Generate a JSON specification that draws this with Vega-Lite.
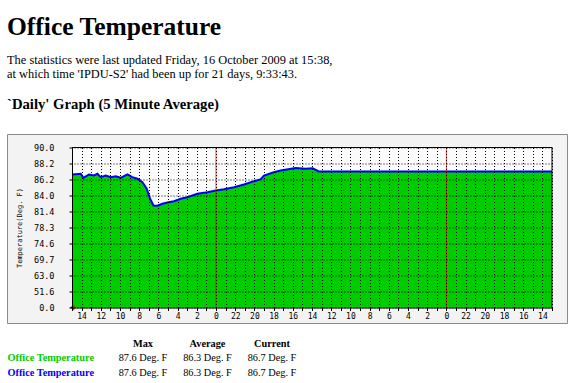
{
  "$schema": "https://vega.github.io/schema/vega-lite/v6.json",
  "background": "white",
  "padding": {"left": 7, "top": 14.5, "right": 0, "bottom": 0},
  "config": {"view": {"stroke": null}, "font": "Liberation Serif"},
  "title": {
    "text": "Office Temperature",
    "subtitle": ["The statistics were last updated Friday, 16 October 2009 at 15:38,", "at which time 'IPDU-S2' had been up for 21 days, 9:33:43."],
    "anchor": "start",
    "font": "Liberation Serif",
    "fontSize": 25.5,
    "fontWeight": "bold",
    "color": "black",
    "subtitleFont": "Liberation Serif",
    "subtitleFontSize": 12.4,
    "subtitleColor": "black",
    "subtitlePadding": 13.5,
    "subtitleLineHeight": 14,
    "offset": 16.5
  },
  "spacing": 14,
  "datasets": {
    "temp": [
      {"t": "2009-10-16T15:00:00", "v": 86.83},
      {"t": "2009-10-16T14:05:00", "v": 86.91},
      {"t": "2009-10-16T13:49:00", "v": 86.41},
      {"t": "2009-10-16T13:14:00", "v": 86.83},
      {"t": "2009-10-16T12:42:00", "v": 86.70},
      {"t": "2009-10-16T12:21:00", "v": 86.91},
      {"t": "2009-10-16T12:01:00", "v": 86.49},
      {"t": "2009-10-16T11:29:00", "v": 86.70},
      {"t": "2009-10-16T10:58:00", "v": 86.49},
      {"t": "2009-10-16T10:27:00", "v": 86.61},
      {"t": "2009-10-16T09:56:00", "v": 86.41},
      {"t": "2009-10-16T09:14:00", "v": 86.83},
      {"t": "2009-10-16T08:43:00", "v": 86.49},
      {"t": "2009-10-16T08:11:00", "v": 86.29},
      {"t": "2009-10-16T07:40:00", "v": 85.83},
      {"t": "2009-10-16T07:13:00", "v": 84.92},
      {"t": "2009-10-16T06:52:00", "v": 83.46},
      {"t": "2009-10-16T06:31:00", "v": 82.38},
      {"t": "2009-10-16T06:06:00", "v": 82.33},
      {"t": "2009-10-16T05:35:00", "v": 82.65},
      {"t": "2009-10-16T05:04:00", "v": 82.86},
      {"t": "2009-10-16T04:22:00", "v": 83.07},
      {"t": "2009-10-16T03:41:00", "v": 83.46},
      {"t": "2009-10-16T02:59:00", "v": 83.72},
      {"t": "2009-10-16T01:56:00", "v": 84.23},
      {"t": "2009-10-16T00:54:00", "v": 84.45},
      {"t": "2009-10-16T00:00:00", "v": 84.69},
      {"t": "2009-10-15T23:10:00", "v": 84.87},
      {"t": "2009-10-15T22:07:00", "v": 85.14},
      {"t": "2009-10-15T21:05:00", "v": 85.51},
      {"t": "2009-10-15T20:02:00", "v": 85.97},
      {"t": "2009-10-15T19:20:00", "v": 86.24},
      {"t": "2009-10-15T19:00:00", "v": 86.70},
      {"t": "2009-10-15T17:58:00", "v": 87.11},
      {"t": "2009-10-15T17:16:00", "v": 87.33},
      {"t": "2009-10-15T15:42:00", "v": 87.65},
      {"t": "2009-10-15T14:40:00", "v": 87.55},
      {"t": "2009-10-15T13:56:00", "v": 87.60},
      {"t": "2009-10-15T13:18:00", "v": 87.20},
      {"t": "2009-10-14T13:00:00", "v": 87.20}
    ]
  },
  "vconcat": [
    {
      "width": 480,
      "height": 160,
      "title": {
        "text": "`Daily' Graph (5 Minute Average)",
        "anchor": "start",
        "font": "Liberation Serif",
        "fontSize": 14.7,
        "fontWeight": "bold",
        "color": "black",
        "offset": 22
      },
      "resolve": {"axis": {"x": "independent"}},
      "layer": [
        {
          "data": {"values": [{"k": 1}]},
          "mark": {"type": "rect", "fill": "#f3f3f3", "stroke": "#8a8a8a", "strokeWidth": 1, "clip": false},
          "encoding": {
            "x": {"datum": {"year": 2009, "month": 10, "date": 16, "hours": 21, "minutes": 43}, "type": "temporal", "axis": null},
            "x2": {"datum": {"year": 2009, "month": 10, "date": 14, "hours": 11, "minutes": 23}},
            "y": {"datum": -51.6, "type": "quantitative", "title": "Temperature(Deg. F)"},
            "y2": {"datum": 91.46}
          }
        },
        {
          "data": {"values": [{"k": 1}]},
          "mark": {"type": "rect", "fill": "#fbfbfb"},
          "encoding": {
            "x": {"datum": {"year": 2009, "month": 10, "date": 16, "hours": 15}, "type": "temporal", "axis": null},
            "x2": {"datum": {"year": 2009, "month": 10, "date": 14, "hours": 13}},
            "y": {"datum": 0, "type": "quantitative", "title": "Temperature(Deg. F)"},
            "y2": {"datum": 90}
          }
        },
        {
          "data": {"name": "temp"},
          "mark": {"type": "area", "color": "#00cc00", "opacity": 1},
          "encoding": {
            "x": {
              "field": "t", "type": "temporal", "title": null,
              "scale": {
                "type": "time",
                "domain": [{"year": 2009, "month": 10, "date": 14, "hours": 13}, {"year": 2009, "month": 10, "date": 16, "hours": 15}],
                "reverse": true,
                "nice": false
              },
              "axis": {
                "orient": "bottom",
                "tickCount": 50,
                "labels": false,
                "tickSize": 3,
                "tickColor": "black",
                "domainColor": "black",
                "grid": true,
                "gridColor": "black",
                "gridDash": [1, 2],
                "zindex": 1,
                "title": null
              }
            },
            "y": {
              "field": "v", "type": "quantitative", "title": "Temperature(Deg. F)",
              "scale": {
                "type": "linear",
                "domain": [0, 51.6, 63, 69.7, 74.6, 78.3, 81.4, 84, 86.2, 88.2, 90],
                "range": [160, 144, 128, 112, 96, 80, 64, 48, 32, 16, 0],
                "nice": false,
                "zero": false
              },
              "axis": {
                "values": [0, 51.6, 63, 69.7, 74.6, 78.3, 81.4, 84, 86.2, 88.2, 90],
                "tickCount": 30,
                "format": ".1f",
                "labelFont": "DejaVu Sans Mono",
                "labelFontSize": 8.5,
                "labelColor": "black",
                "labelPadding": 15,
                "labelOverlap": false,
                "tickSize": 3,
                "tickColor": "black",
                "domainColor": "black",
                "grid": true,
                "gridColor": "black",
                "gridDash": [1, 2],
                "zindex": 1,
                "titleFont": "DejaVu Sans Mono",
                "titleFontSize": 7,
                "titleFontWeight": "normal",
                "titleColor": "black",
                "titlePadding": 11
              }
            },
            "y2": {"datum": 0}
          }
        },
        {
          "data": {"name": "temp"},
          "mark": {"type": "line", "color": "#0000ff", "strokeWidth": 2},
          "encoding": {
            "x": {
              "field": "t", "type": "temporal", "title": null,
              "axis": {
                "orient": "bottom",
                "values": [
                  {"year": 2009, "month": 10, "date": 14, "hours": 14},
                  {"year": 2009, "month": 10, "date": 14, "hours": 16},
                  {"year": 2009, "month": 10, "date": 14, "hours": 18},
                  {"year": 2009, "month": 10, "date": 14, "hours": 20},
                  {"year": 2009, "month": 10, "date": 14, "hours": 22},
                  {"year": 2009, "month": 10, "date": 15, "hours": 0},
                  {"year": 2009, "month": 10, "date": 15, "hours": 2},
                  {"year": 2009, "month": 10, "date": 15, "hours": 4},
                  {"year": 2009, "month": 10, "date": 15, "hours": 6},
                  {"year": 2009, "month": 10, "date": 15, "hours": 8},
                  {"year": 2009, "month": 10, "date": 15, "hours": 10},
                  {"year": 2009, "month": 10, "date": 15, "hours": 12},
                  {"year": 2009, "month": 10, "date": 15, "hours": 14},
                  {"year": 2009, "month": 10, "date": 15, "hours": 16},
                  {"year": 2009, "month": 10, "date": 15, "hours": 18},
                  {"year": 2009, "month": 10, "date": 15, "hours": 20},
                  {"year": 2009, "month": 10, "date": 15, "hours": 22},
                  {"year": 2009, "month": 10, "date": 16, "hours": 0},
                  {"year": 2009, "month": 10, "date": 16, "hours": 2},
                  {"year": 2009, "month": 10, "date": 16, "hours": 4},
                  {"year": 2009, "month": 10, "date": 16, "hours": 6},
                  {"year": 2009, "month": 10, "date": 16, "hours": 8},
                  {"year": 2009, "month": 10, "date": 16, "hours": 10},
                  {"year": 2009, "month": 10, "date": 16, "hours": 12},
                  {"year": 2009, "month": 10, "date": 16, "hours": 14}
                ],
                "tickCount": 60,
                "format": "%-H",
                "labelFlush": false,
                "labelOverlap": false,
                "labelFont": "DejaVu Sans Mono",
                "labelFontSize": 8,
                "labelColor": "black",
                "labelPadding": 2,
                "tickSize": 3,
                "tickColor": "black",
                "domain": false,
                "grid": false,
                "zindex": 1,
                "title": null
              }
            },
            "y": {"field": "v", "type": "quantitative", "title": "Temperature(Deg. F)"}
          }
        },
        {
          "data": {"values": [{"t": "2009-10-16T00:00:00"}, {"t": "2009-10-15T00:00:00"}]},
          "mark": {"type": "rule", "color": "#ee0000", "opacity": 0.75, "strokeWidth": 1},
          "encoding": {
            "x": {"field": "t", "type": "temporal", "axis": null},
            "y": {"datum": 0, "type": "quantitative", "title": "Temperature(Deg. F)"},
            "y2": {"datum": 90}
          }
        },
        {
          "data": {"values": [{"k": 1}]},
          "mark": {"type": "rule", "color": "black", "strokeWidth": 1},
          "encoding": {
            "x": {"datum": {"year": 2009, "month": 10, "date": 16, "hours": 15}, "type": "temporal", "axis": null},
            "x2": {"datum": {"year": 2009, "month": 10, "date": 14, "hours": 13}},
            "y": {"datum": 90, "type": "quantitative", "title": "Temperature(Deg. F)"}
          }
        },
        {
          "data": {"values": [{"k": 1}]},
          "mark": {"type": "rule", "color": "black", "strokeWidth": 1},
          "encoding": {
            "x": {"datum": {"year": 2009, "month": 10, "date": 14, "hours": 13}, "type": "temporal", "axis": null},
            "y": {"datum": 0, "type": "quantitative", "title": "Temperature(Deg. F)"},
            "y2": {"datum": 90}
          }
        },
        {
          "data": {"values": [{"k": 1}]},
          "mark": {"type": "point", "shape": "triangle-left", "filled": true, "color": "#ff0000", "size": 30, "opacity": 1, "clip": false},
          "encoding": {
            "x": {"datum": {"year": 2009, "month": 10, "date": 16, "hours": 15}, "type": "temporal", "axis": null},
            "y": {"datum": 0, "type": "quantitative", "title": "Temperature(Deg. F)"}
          }
        }
      ]
    },
    {
      "width": 193.5,
      "height": 29,
      "layer": [
        {
          "data": {"values": [{"row": "header", "col": "Max", "txt": "Max"}, {"row": "header", "col": "Average", "txt": "Average"}, {"row": "header", "col": "Current", "txt": "Current"}]},
          "mark": {"type": "text", "font": "Liberation Serif", "fontSize": 10.3, "fontWeight": "bold", "color": "black", "baseline": "alphabetic", "align": "center", "dx": 6.5},
          "encoding": {
            "x": {"field": "col", "type": "nominal", "scale": {"type": "point", "domain": ["label", "Max", "Average", "Current"], "padding": 0}, "axis": null},
            "y": {"field": "row", "type": "nominal", "scale": {"type": "point", "domain": ["header", "in", "out"], "padding": 0}, "axis": null},
            "text": {"field": "txt"}
          }
        },
        {
          "data": {"values": [{"row": "in", "col": "label", "txt": "Office Temperature"}]},
          "mark": {"type": "text", "font": "Liberation Serif", "fontSize": 10.3, "fontWeight": "bold", "color": "#00cc00", "baseline": "alphabetic", "align": "left", "dx": -64.5},
          "encoding": {
            "x": {"field": "col", "type": "nominal"},
            "y": {"field": "row", "type": "nominal"},
            "text": {"field": "txt"}
          }
        },
        {
          "data": {"values": [{"row": "out", "col": "label", "txt": "Office Temperature"}]},
          "mark": {"type": "text", "font": "Liberation Serif", "fontSize": 10.3, "fontWeight": "bold", "color": "#0000ff", "baseline": "alphabetic", "align": "left", "dx": -64.5},
          "encoding": {
            "x": {"field": "col", "type": "nominal"},
            "y": {"field": "row", "type": "nominal"},
            "text": {"field": "txt"}
          }
        },
        {
          "data": {"values": [
            {"row": "in", "col": "Max", "txt": "87.6 Deg. F"},
            {"row": "in", "col": "Average", "txt": "86.3 Deg. F"},
            {"row": "in", "col": "Current", "txt": "86.7 Deg. F"},
            {"row": "out", "col": "Max", "txt": "87.6 Deg. F"},
            {"row": "out", "col": "Average", "txt": "86.3 Deg. F"},
            {"row": "out", "col": "Current", "txt": "86.7 Deg. F"}
          ]},
          "mark": {"type": "text", "font": "Liberation Serif", "fontSize": 10.3, "color": "black", "baseline": "alphabetic", "align": "center", "dx": 6.5},
          "encoding": {
            "x": {"field": "col", "type": "nominal"},
            "y": {"field": "row", "type": "nominal"},
            "text": {"field": "txt"}
          }
        }
      ]
    }
  ]
}
